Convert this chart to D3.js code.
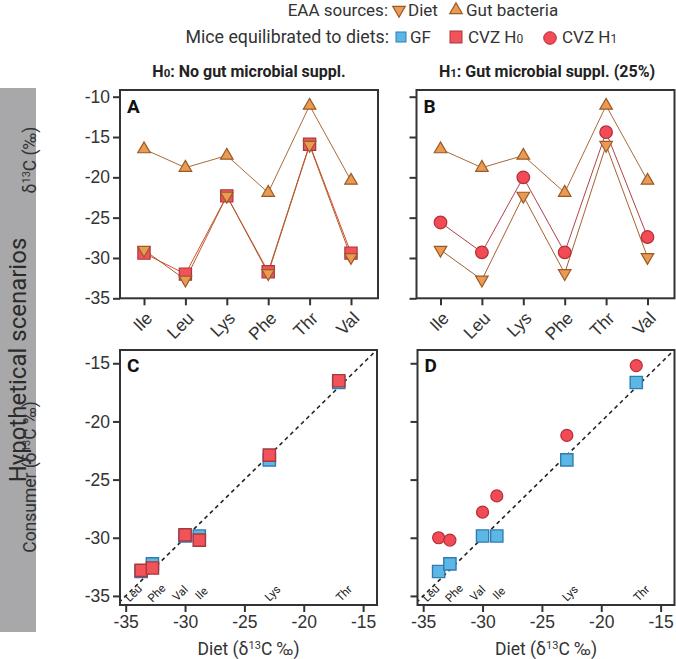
<!DOCTYPE html>
<html>
<head>
<meta charset="utf-8">
<script src="https://cdn.jsdelivr.net/npm/d3@7/dist/d3.min.js"></script>
<style>
  body { margin: 0; background: #fff; }
  svg { display: block; font-family: Roboto, "Noto Sans", sans-serif; }
</style>
</head>
<body>
<svg width="676" height="659"></svg>
<script>
// amino acids on the x axis of A and B
var aminoAcids = ['Ile', 'Leu', 'Lys', 'Phe', 'Thr', 'Val'];
var tickValuesAB = [-10, -15, -20, -25, -30, -35];
var tickValuesCD = [-35, -30, -25, -20, -15];

// A / B : d13C of EAA sources and of the mice
var dietEAA = [-29.0, -32.7, -22.3, -31.9, -16.0, -29.9];
var gutEAA = [-16.5, -18.8, -17.3, -21.9, -11.1, -20.4];
var cvzH0Scenario = [-29.4, -32.0, -22.3, -31.7, -15.9, -29.4];
var cvzH1Scenario = [-25.6, -29.3, -20.0, -29.3, -14.4, -27.4];

// C / D : consumer vs diet
var dietX = [-28.8, -33.7, -22.9, -32.75, -17.05, -30.0];
var gfConsumer = [-29.85, -32.9, -23.3, -32.25, -16.65, -29.85];
var cvzH0Consumer = [-30.2, -32.8, -22.9, -32.6, -16.5, -29.75];
var cvzH1Consumer = [-26.4, -30.0, -21.2, -30.2, -15.2, -27.8];

var svg = d3.select('svg');
var ink = '#333';
var brown = '#9a5a28', tan = '#ea9a52';
var blueFill = '#5cb6e6', blueStroke = '#2f7db0';
var redFill = '#f2535b', redStroke = '#a8383d';
var circFill = '#f24b55', circStroke = '#b3303a';

var triUp = d3.symbol().type(d3.symbolTriangle).size(68);
var square = d3.symbol().type(d3.symbolSquare).size(150);

// small sideways shifts so the crowded names at the bottom of C/D don't collide
var nameNudge = {Leu: -8, Phe: 4, Val: -5, Ile: 2, Lys: 3, Thr: 5};

function zipped(xs, ys) {
    return xs.map((v, i) => ({name: aminoAcids[i], x: v, y: ys[i]}));
}

function styleAxis(g) {
    g.select('.domain').remove();
    g.selectAll('.tick line').attr('stroke', ink).attr('stroke-width', 2);
    g.selectAll('.tick text').attr('fill', ink).style('font-size', '17.5px');
}

// ---- side bar
svg.append('rect')
    .attr('x', 0).attr('y', 88).attr('width', 36).attr('height', 544)
    .attr('fill', '#a8a8aa');
svg.append('text')
    .attr('transform', 'translate(26,360) rotate(-90)')
    .attr('text-anchor', 'middle')
    .style('font-size', '24px')
    .attr('fill', '#2b2b2b')
    .text('Hypothetical scenarios');

// ---- legend
function legendLabel(x, y, txt) {
    return svg.append('text').attr('x', x).attr('y', y)
        .attr('fill', ink).style('font-size', '17px').text(txt);
}
legendLabel(388, 16, 'EAA sources:').attr('text-anchor', 'end');
svg.append('path').attr('d', triUp)
    .attr('transform', 'translate(399,10) rotate(180)')
    .attr('fill', tan).attr('stroke', brown).attr('stroke-width', 1.2);
legendLabel(408, 16, 'Diet');
svg.append('path').attr('d', triUp)
    .attr('transform', 'translate(456,10)')
    .attr('fill', tan).attr('stroke', brown).attr('stroke-width', 1.2);
legendLabel(466, 16, 'Gut bacteria');

legendLabel(389, 43, 'Mice equilibrated to diets:').attr('text-anchor', 'end')
    .style('font-size', '17.8px');
svg.append('rect').attr('x', 396).attr('y', 32).attr('width', 10).attr('height', 10)
    .attr('fill', blueFill).attr('stroke', blueStroke);
legendLabel(410, 43, 'GF');
svg.append('rect').attr('x', 450).attr('y', 31).attr('width', 12).attr('height', 12)
    .attr('fill', redFill).attr('stroke', redStroke);
var h0 = legendLabel(468, 43, 'CVZ H');
h0.append('tspan').style('font-size', '12px').text('0');
svg.append('circle').attr('cx', 550).attr('cy', 38).attr('r', 6.3)
    .attr('fill', circFill).attr('stroke', circStroke);
var h1 = legendLabel(562, 43, 'CVZ H');
h1.append('tspan').style('font-size', '12px').text('1');

// ---- column titles
function title(x, num, rest) {
    var t = svg.append('text').attr('x', x).attr('y', 77)
        .attr('text-anchor', 'middle').attr('fill', '#222')
        .style('font-size', '16px').style('font-weight', 'bold');
    t.append('tspan').text('H');
    t.append('tspan').style('font-size', '11.5px').text(num);
    t.append('tspan').text(rest);
}
title(249, '0', ': No gut microbial suppl.');
title(547, '1', ': Gut microbial suppl. (25%)');

// ---- A and B: d13C by amino acid
function seriesPanel(left, letter, showLabels, lines) {
    var w = 258, h = 208.3, top = 90;
    var g = svg.append('g').attr('transform', 'translate(' + left + ',' + top + ')');
    var x = d3.scalePoint().domain(aminoAcids).range([24, w - 27]);
    var y = d3.scaleLinear().domain([-35, -9.17]).range([h, 0]);

    g.append('g')
        .call(d3.axisLeft(y).tickValues(tickValuesAB).tickSize(7).tickPadding(3)
            .tickFormat(d => showLabels ? String(d) : ''))
        .call(styleAxis);

    var xg = g.append('g').attr('transform', 'translate(0,' + h + ')')
        .call(d3.axisBottom(x).tickSize(7))
        .call(styleAxis);
    xg.selectAll('.tick text')
        .attr('y', 0).attr('dy', 0)
        .attr('text-anchor', 'end')
        .attr('transform', 'translate(9,21) rotate(-45)');

    var line = d3.line().x(d => x(d.name)).y(d => y(d.y));

    lines.forEach(s => {
        g.append('path').datum(zipped(s.values, s.values))
            .attr('d', line).attr('fill', 'none')
            .attr('stroke', s.line).attr('stroke-width', 1);
    });
    lines.forEach(s => {
        var pts = g.append('g').selectAll('path')
            .data(zipped(s.values, s.values)).enter();
        if (s.shape === 'circle') {
            pts.append('circle')
                .attr('cx', d => x(d.name)).attr('cy', d => y(d.y)).attr('r', 6.3)
                .attr('fill', s.fill).attr('stroke', s.stroke).attr('stroke-width', 1.2);
        } else {
            pts.append('path')
                .attr('d', s.shape === 'square' ? square : triUp)
                .attr('transform', d => 'translate(' + x(d.name) + ',' + y(d.y) + ')' +
                    (s.shape === 'down' ? ' rotate(180)' : ''))
                .attr('fill', s.fill).attr('stroke', s.stroke).attr('stroke-width', 1.2);
        }
    });

    g.append('rect').attr('width', w).attr('height', h)
        .attr('fill', 'none').attr('stroke', ink).attr('stroke-width', 2);
    g.append('text').attr('x', 7).attr('y', 23)
        .style('font-size', '19px').style('font-weight', 'bold').attr('fill', '#111')
        .text(letter);
}

seriesPanel(120, 'A', true, [
    {values: gutEAA, shape: 'up', fill: tan, stroke: brown, line: '#a86a3a'},
    {values: cvzH0Scenario, shape: 'square', fill: redFill, stroke: redStroke, line: '#e0492e'},
    {values: dietEAA, shape: 'down', fill: tan, stroke: brown, line: '#a8602c'}
]);
seriesPanel(416.5, 'B', false, [
    {values: gutEAA, shape: 'up', fill: tan, stroke: brown, line: '#a86a3a'},
    {values: dietEAA, shape: 'down', fill: tan, stroke: brown, line: '#a8602c'},
    {values: cvzH1Scenario, shape: 'circle', fill: circFill, stroke: circStroke, line: '#b3404a'}
]);

// ---- C and D: consumer vs diet
function scatterPanel(left, letter, showLabels, sets) {
    var w = 257, h = 255, top = 350;
    var g = svg.append('g').attr('transform', 'translate(' + left + ',' + top + ')');
    var x = d3.scaleLinear().domain([-35.48, -13.83]).range([0, w]);
    var y = d3.scaleLinear().domain([-35.78, -13.86]).range([h, 0]);

    g.append('g')
        .call(d3.axisLeft(y).tickValues(tickValuesCD).tickSize(7).tickPadding(3)
            .tickFormat(d => showLabels ? String(d) : ''))
        .call(styleAxis);
    g.append('g').attr('transform', 'translate(0,' + h + ')')
        .call(d3.axisBottom(x).tickValues(tickValuesCD).tickSize(7).tickPadding(4)
            .tickFormat(d => String(d)))
        .call(styleAxis);

    g.append('defs').append('clipPath').attr('id', 'clip' + letter)
        .append('rect').attr('width', w).attr('height', h);

    // 1:1 line
    var lo = Math.max(x.domain()[0], y.domain()[0]) - 1;
    var hi = Math.min(x.domain()[1], y.domain()[1]) + 1;
    g.append('line')
        .attr('clip-path', 'url(#clip' + letter + ')')
        .attr('x1', x(lo)).attr('y1', y(lo)).attr('x2', x(hi)).attr('y2', y(hi))
        .attr('stroke', '#222').attr('stroke-width', 1.5).attr('stroke-dasharray', '4,3.5');

    // amino acid names along the bottom
    g.append('g').selectAll('text')
        .data(zipped(dietX, dietX)).enter().append('text')
        .attr('transform', d => 'translate(' + (x(d.x) + nameNudge[d.name] + 3) + ',' +
            (h - 9) + ') rotate(-45)')
        .attr('text-anchor', 'middle')
        .style('font-size', '11.5px').attr('fill', '#222')
        .text(d => d.name);

    sets.forEach(s => {
        var pts = g.append('g').selectAll('path')
            .data(zipped(dietX, s.values)).enter();
        if (s.shape === 'circle') {
            pts.append('circle')
                .attr('cx', d => x(d.x)).attr('cy', d => y(d.y)).attr('r', 6)
                .attr('fill', s.fill).attr('stroke', s.stroke).attr('stroke-width', 1.2);
        } else {
            pts.append('path').attr('d', square)
                .attr('transform', d => 'translate(' + x(d.x) + ',' + y(d.y) + ')')
                .attr('fill', s.fill).attr('stroke', s.stroke).attr('stroke-width', 1.4);
        }
    });

    g.append('rect').attr('width', w).attr('height', h)
        .attr('fill', 'none').attr('stroke', ink).attr('stroke-width', 2);
    g.append('text').attr('x', 7).attr('y', 22)
        .style('font-size', '19px').style('font-weight', 'bold').attr('fill', '#111')
        .text(letter);

    var xt = g.append('text').attr('x', w / 2).attr('y', h + 50)
        .attr('text-anchor', 'middle').attr('fill', ink).style('font-size', '17.5px');
    xt.append('tspan').text('Diet (\u03B4');
    xt.append('tspan').attr('dy', -6).style('font-size', '11px').text('13');
    xt.append('tspan').attr('dy', 6).text('C \u2030)');
}

scatterPanel(120, 'C', true, [
    {values: gfConsumer, shape: 'square', fill: blueFill, stroke: blueStroke},
    {values: cvzH0Consumer, shape: 'square', fill: redFill, stroke: redStroke}
]);
scatterPanel(417.5, 'D', false, [
    {values: gfConsumer, shape: 'square', fill: blueFill, stroke: blueStroke},
    {values: cvzH1Consumer, shape: 'circle', fill: circFill, stroke: circStroke}
]);

// ---- y axis titles
var ya = svg.append('text').attr('transform', 'translate(36,160) rotate(-90)')
    .attr('text-anchor', 'middle').attr('fill', ink).style('font-size', '17.5px');
ya.append('tspan').text('\u03B4');
ya.append('tspan').attr('dy', -6).style('font-size', '11px').text('13');
ya.append('tspan').attr('dy', 6).text('C (\u2030)');

var yc = svg.append('text').attr('transform', 'translate(36,477) rotate(-90)')
    .attr('text-anchor', 'middle').attr('fill', ink).style('font-size', '17.5px');
yc.append('tspan').text('Consumer (\u03B4');
yc.append('tspan').attr('dy', -6).style('font-size', '11px').text('13');
yc.append('tspan').attr('dy', 6).text('C \u2030)');
</script>
</body>
</html>
